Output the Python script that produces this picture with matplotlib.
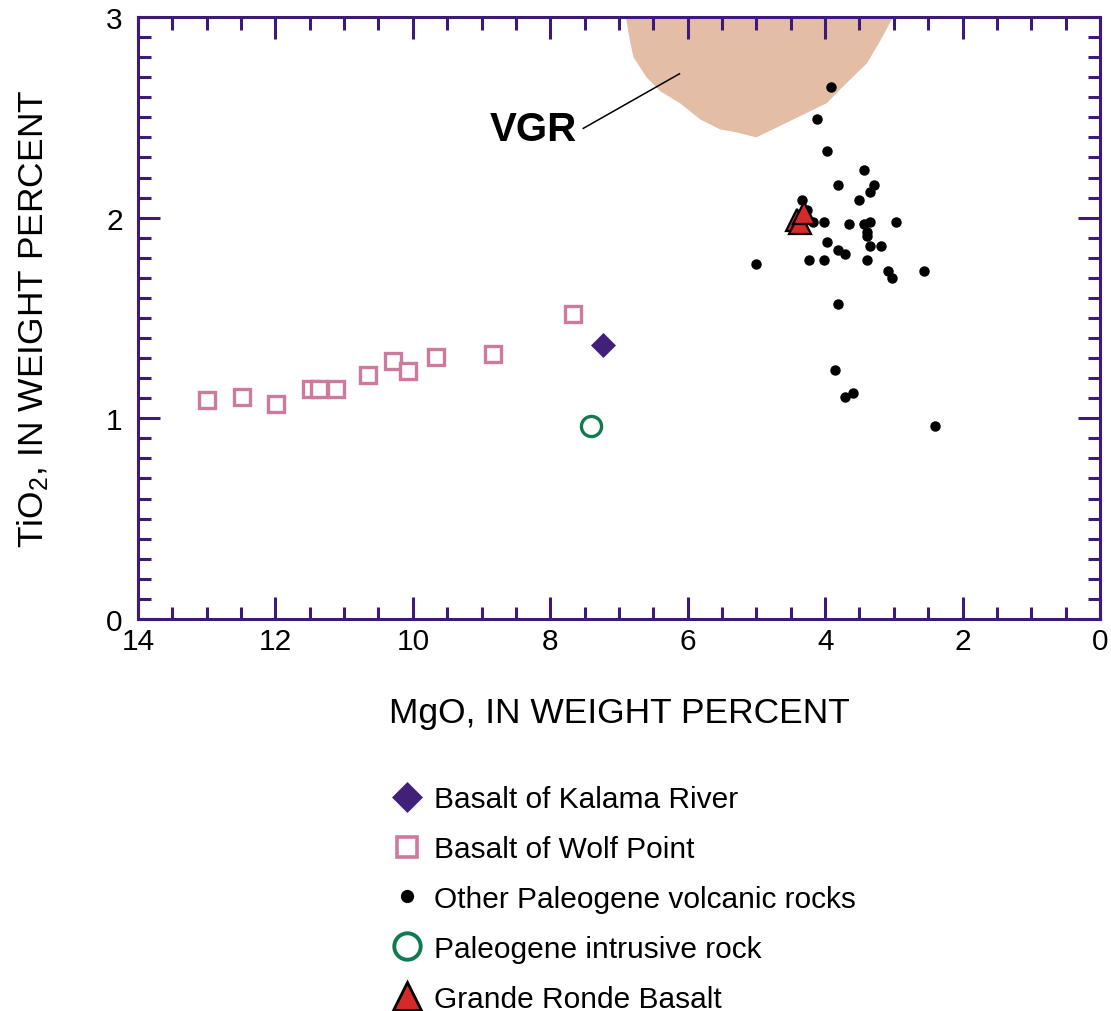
# -*- coding: utf-8 -*-
"""
TiO2 vs MgO variation diagram with VGR field
"""

### Imports
from matplotlib import pyplot as plt
from matplotlib.lines import Line2D
from matplotlib.patches import Polygon
from matplotlib.ticker import MultipleLocator

plt.rcParams['font.family'] = ['Liberation Sans', 'DejaVu Sans']
plt.rcParams['mathtext.default'] = 'regular'

### Data
# Basalt of Wolf Point
wolf_mgo = [13.0, 12.49, 11.99, 11.48, 11.37, 11.12, 10.65, 10.29, 10.07, 9.66, 8.83, 7.67]
wolf_tio2 = [1.09, 1.105, 1.07, 1.145, 1.145, 1.145, 1.215, 1.285, 1.235, 1.305, 1.32, 1.52]

# Basalt of Kalama River
kalama_mgo = [7.23]
kalama_tio2 = [1.365]

# Paleogene intrusive rock
intrusive_mgo = [7.41]
intrusive_tio2 = [0.96]

# Grande Ronde Basalt
grande_mgo = [4.41, 4.37, 4.31]
grande_tio2 = [1.99, 1.975, 2.025]

# Other Paleogene volcanic rocks
other_mgo = [3.91, 4.12, 3.97, 3.44, 3.81, 3.29, 3.34, 3.50, 4.33, 4.26, 4.17, 4.02,
             3.65, 3.44, 3.34, 2.97, 3.39, 3.39, 3.97, 3.34, 3.19, 3.81, 3.71, 5.01,
             4.23, 4.02, 3.39, 3.08, 3.03, 2.56, 3.81, 3.85, 3.60, 3.71, 2.40]
other_tio2 = [2.65, 2.49, 2.33, 2.24, 2.165, 2.165, 2.13, 2.09, 2.09, 2.04, 1.98, 1.98,
              1.97, 1.97, 1.98, 1.98, 1.93, 1.91, 1.88, 1.86, 1.86, 1.84, 1.82, 1.77,
              1.79, 1.79, 1.79, 1.735, 1.70, 1.735, 1.57, 1.24, 1.125, 1.105, 0.96]

# VGR field outline
vgr_mgo = [6.92, 6.90, 6.84, 6.79, 6.60, 6.40, 6.11, 5.82, 5.53, 5.29, 5.00, 4.70,
           4.46, 3.98, 3.69, 3.39, 3.20, 3.01, 2.98]
vgr_tio2 = [3.2, 3.0, 2.88, 2.80, 2.70, 2.63, 2.57, 2.49, 2.44, 2.425, 2.40, 2.45,
            2.49, 2.57, 2.67, 2.77, 2.88, 3.0, 3.2]

legend_labels = ['Basalt of Kalama River', 'Basalt of Wolf Point',
                 'Other Paleogene volcanic rocks', 'Paleogene intrusive rock',
                 'Grande Ronde Basalt']

### Styles
axis_col = '#3d1a78'
pink = '#cc7a9e'
purple = '#41207a'
green = '#117a50'
red = '#d42a2a'
vgr_col = '#e3bda5'

### Make Figure
fig = plt.figure(figsize=(11.11, 10.12), dpi=100)
ax = fig.add_axes([0.1242, 0.3874, 0.8659, 0.5948])

ax.add_patch(Polygon(list(zip(vgr_mgo, vgr_tio2)), closed=True,
                     facecolor=vgr_col, edgecolor='none', zorder=1))

ax.plot(wolf_mgo, wolf_tio2, ls='none', marker='s', ms=11, mfc='white',
        mec=pink, mew=2.4, zorder=3)
ax.plot(kalama_mgo, kalama_tio2, ls='none', marker='D', ms=12.5, mfc=purple,
        mec=purple, mew=0.5, zorder=3)
ax.plot(intrusive_mgo, intrusive_tio2, ls='none', marker='o', ms=14.5, mfc='white',
        mec=green, mew=2.4, zorder=3)
ax.plot(other_mgo, other_tio2, ls='none', marker='o', ms=6.5, mfc='black',
        mec='black', zorder=4)
ax.plot(grande_mgo, grande_tio2, ls='none', marker='^', ms=16, mfc=red,
        mec='black', mew=1.6, zorder=5)

# VGR label with leader
ax.text(8.25, 2.44, 'VGR', fontsize=29, fontweight='bold', ha='center', va='center', zorder=6)
ax.plot([7.52, 6.12], [2.445, 2.717], color='black', lw=1.1, zorder=6)

ax.set_xlim(14, 0)
ax.set_ylim(0, 3)
ax.xaxis.set_major_locator(MultipleLocator(2))
ax.xaxis.set_minor_locator(MultipleLocator(0.5))
ax.yaxis.set_major_locator(MultipleLocator(1))
ax.yaxis.set_minor_locator(MultipleLocator(0.1))
ax.tick_params(which='both', direction='in', top=True, right=True,
               color=axis_col, width=2.2, labelsize=21.5)
ax.tick_params(which='major', length=16)
ax.tick_params(which='minor', length=9)
ax.tick_params(axis='x', which='major', pad=6)
ax.tick_params(axis='y', which='major', pad=11)
for sp in ax.spines.values():
    sp.set_color(axis_col)
    sp.set_linewidth(2.2)

ax.set_xlabel('MgO, IN WEIGHT PERCENT', fontsize=25.5, labelpad=29)
ax.set_ylabel('TiO$_2$, IN WEIGHT PERCENT', fontsize=25.5, labelpad=40)

### Legend
handles = [
    Line2D([], [], ls='none', marker='D', ms=15.5, mfc=purple, mec=purple, mew=0.5),
    Line2D([], [], ls='none', marker='s', ms=14, mfc='white', mec=pink, mew=2.6),
    Line2D([], [], ls='none', marker='o', ms=8.5, mfc='black', mec='black'),
    Line2D([], [], ls='none', marker='o', ms=19, mfc='white', mec=green, mew=2.8),
    Line2D([], [], ls='none', marker='^', ms=20, mfc=red, mec='black', mew=2.0),
]
fig.legend(handles, legend_labels, loc='upper left', bbox_to_anchor=(0.352, 0.223),
           frameon=False, fontsize=21.5, handlelength=1.1, handletextpad=0.35,
           labelspacing=0.73, borderaxespad=0, borderpad=0)

fig.savefig('out.png', dpi=100)
